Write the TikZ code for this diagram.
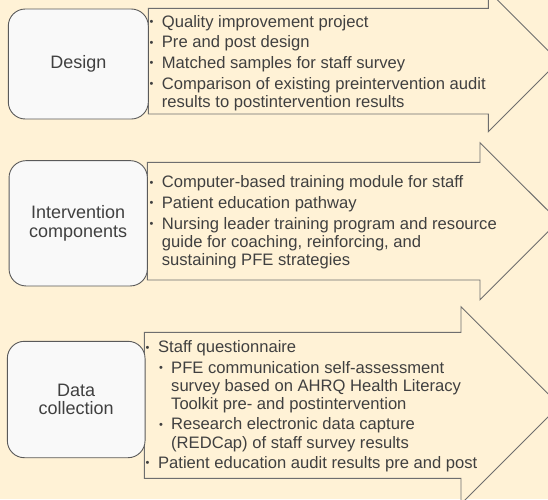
\documentclass[tikz,border=0pt]{standalone}
\usepackage{fontspec}
\setmainfont{Liberation Sans}
\definecolor{bg}{HTML}{FFF2D6}
\definecolor{arrowfill}{HTML}{FFF2D6}
\definecolor{arrowline}{HTML}{6E6E6E}
\definecolor{boxfill}{HTML}{F9F9F9}
\definecolor{boxline}{HTML}{5A5A5A}
\definecolor{txt}{HTML}{404040}
\newcommand\bul{\raisebox{1.6pt}{\fontsize{11pt}{11pt}\selectfont •}}
\newcommand\bitem[1]{\par\hangindent=12.4pt\hangafter=1\noindent\makebox[12.4pt][l]{\bul}#1}
\newcommand\sitem[1]{\par\hangindent=25.5pt\hangafter=1\noindent\hspace*{13.5pt}\makebox[12pt][l]{\bul}#1}
\tikzset{
  arrowshape/.style={fill=arrowfill, draw=arrowline, line width=0.9pt, line join=miter},
  labelbox/.style={draw=boxline, fill=boxfill, line width=0.9pt, rounded corners=17pt,
    align=center, text=txt, font=\fontsize{18pt}{18.5pt}\selectfont, inner sep=0pt},
  itemtext/.style={anchor=base west, inner sep=0pt, text=txt,
    font=\fontsize{16.6pt}{18.2pt}\selectfont}
}
\begin{document}
\begin{tikzpicture}[x=1pt,y=-1pt]
\fill[bg] (0,0) rectangle (548,499);
\useasboundingbox (0,0) rectangle (548,499);
\begin{scope}
\clip (0,0) rectangle (548,499);
% arrows
\draw[arrowshape] (148.3,8.3) -- (488.3,8.3) -- (488.3,-9.3) -- (558.8,61.2) -- (488.3,131.7) -- (488.3,114) -- (148.3,114) -- cycle;
\draw[arrowshape] (147.3,162.3) -- (480,162.3) -- (480,142.7) -- (558.6,221.2) -- (480,299.8) -- (480,280) -- (147.3,280) -- cycle;
\draw[arrowshape] (144.3,332.3) -- (461,332.3) -- (461,306.7) -- (559.6,405.3) -- (461,503.9) -- (461,478.3) -- (144.3,478.3) -- cycle;
\end{scope}
% boxes
\node[labelbox, minimum width=140pt, minimum height=110pt] (design) at (78.3,64) {Design};
\node[labelbox, minimum width=138.3pt, minimum height=125.3pt] (interv) at (78.2,223.3) {Intervention\\components};
\node[labelbox, minimum width=137.7pt, minimum height=116.4pt] (datac) at (76.2,399.5) {Data\\collection};
% texts
\node[itemtext] (t1) at (149.3,27) {\parbox[t]{390pt}{\parskip=2.5pt
\bitem{Quality improvement project}
\bitem{Pre and post design}
\bitem{Matched samples for staff survey}
\bitem{Comparison of existing preintervention audit\newline results to postintervention results}}};
\node[itemtext] (t2) at (149.3,187.6) {\parbox[t]{390pt}{\parskip=2.5pt
\bitem{Computer-based training module for staff}
\bitem{Patient education pathway}
\bitem{Nursing leader training program and resource\newline guide for coaching, reinforcing, and\newline sustaining PFE strategies}}};
\node[itemtext] (t3) at (145.5,352.6) {\parbox[t]{390pt}{\parskip=2.2pt
\bitem{Staff questionnaire}
\sitem{PFE communication self-assessment\newline survey based on AHRQ Health Literacy\newline Toolkit pre- and postintervention}
\sitem{Research electronic data capture\newline (REDCap) of staff survey results}
\bitem{Patient education audit results pre and post}}};
\end{tikzpicture}
\end{document}
